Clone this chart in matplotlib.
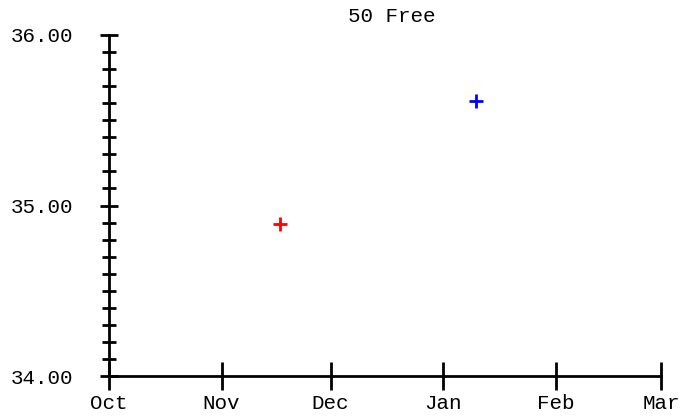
import matplotlib
matplotlib.use("Agg")
import matplotlib.pyplot as plt
import matplotlib.dates as mdates
from matplotlib.ticker import MultipleLocator, FormatStrFormatter
import pandas as pd

title = "50 Free"
swim_dates = ["2023-11-17", "2024-01-10"]
swim_times = [34.89, 35.61]
point_colors = ["#ff0000", "#0000ff"]
x_start, x_end = "2023-10-01", "2024-03-01"
y_min, y_max = 34.0, 36.0

plt.rcParams["font.family"] = ["Liberation Mono", "DejaVu Sans Mono"]

fig = plt.figure(figsize=(6.82, 4.16), dpi=100)
ax = fig.add_axes([109/682, 1-376/416, (661-109)/682, (376-35)/416])

dates = pd.to_datetime(swim_dates)
for d, t, c in zip(dates, swim_times, point_colors):
    ax.plot([d], [t], marker="+", color=c, markersize=9.5, mew=2.0, linestyle="none", clip_on=False)

ax.set_xlim(pd.Timestamp(x_start), pd.Timestamp(x_end))
ax.set_ylim(y_min, y_max)

ax.xaxis.set_major_locator(mdates.MonthLocator())
ax.xaxis.set_major_formatter(mdates.DateFormatter("%b"))
ax.yaxis.set_major_locator(MultipleLocator(1.0))
ax.yaxis.set_minor_locator(MultipleLocator(0.1))
ax.yaxis.set_major_formatter(FormatStrFormatter("%.2f"))

for s in ["top", "right"]:
    ax.spines[s].set_visible(False)
for s in ["left", "bottom"]:
    ax.spines[s].set_linewidth(2.0)
    ax.spines[s].set_color("black")

ax.tick_params(axis="x", which="major", direction="inout", length=20, width=2.0, labelsize=15, pad=3)
ax.tick_params(axis="y", which="major", direction="inout", length=13, width=2.0, labelsize=15, pad=19)
ax.tick_params(axis="y", which="minor", direction="inout", length=9.5, width=2.0)

ax.set_title(title, fontsize=15, pad=9, x=0.512)

fig.savefig("out.png", dpi=100)
